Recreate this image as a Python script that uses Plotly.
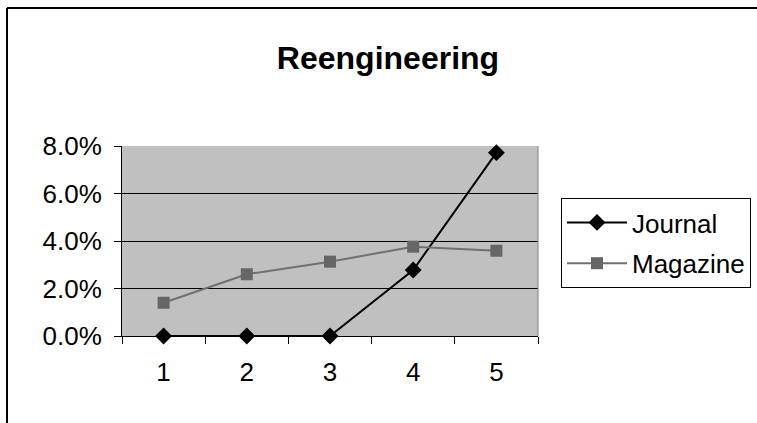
import plotly.graph_objects as go

# Share of articles per period, by publication type
periods = ["1", "2", "3", "4", "5"]
journal = [0.0, 0.0, 0.0, 0.0278, 0.0772]
magazine = [0.0140, 0.0260, 0.0313, 0.0376, 0.0359]
y_ticks = [0.0, 0.02, 0.04, 0.06, 0.08]

FONT = "Arial, 'Liberation Sans', sans-serif"

fig = go.Figure()
fig.add_trace(go.Scatter(
    x=periods, y=journal, name="Journal", mode="lines+markers",
    line=dict(color="#000000", width=2),
    marker=dict(symbol="diamond", size=13, color="#000000"),
    cliponaxis=False, legendgroup="j",
))
fig.add_trace(go.Scatter(
    x=periods, y=magazine, name="Magazine", mode="lines+markers",
    line=dict(color="#707070", width=2),
    marker=dict(symbol="square", size=12, color="#666666"),
    cliponaxis=False, legendgroup="m",
))

fig.update_layout(
    width=757, height=423,
    margin=dict(l=122, r=219, t=146, b=87, autoexpand=False),
    paper_bgcolor="#ffffff",
    plot_bgcolor="#c0c0c0",
    font=dict(family=FONT, size=26, color="#000000"),
    title=dict(
        text="<b>Reengineering</b>",
        font=dict(family=FONT, size=32, color="#000000"),
        x=388 / 757, xanchor="center", xref="container",
        y=1 - 58 / 423, yanchor="middle", yref="container",
    ),
    showlegend=True,
    legend=dict(
        x=(561 - 122) / 416, xanchor="left", y=(336 - 198) / 190, yanchor="top",
        bgcolor="#ffffff", bordercolor="#000000", borderwidth=1,
        font=dict(family=FONT, size=26, color="#000000"),
        tracegroupgap=4, traceorder="grouped", itemwidth=60,
    ),
    xaxis=dict(
        type="category", categoryorder="array", categoryarray=periods,
        range=[-0.5, 4.5],
        tickson="boundaries", ticks="outside", ticklen=7,
        tickcolor="#000000", tickwidth=1,
        showline=True, linecolor="#000000", linewidth=1,
        showgrid=False, zeroline=False, mirror=False,
        ticklabelstandoff=13,
        tickfont=dict(family=FONT, size=26),
    ),
    yaxis=dict(
        range=[0, 0.08], tickvals=y_ticks, tickformat=".1%",
        ticks="outside", ticklen=7, tickcolor="#000000", tickwidth=1,
        showline=True, linecolor="#000000", linewidth=1,
        showgrid=True, gridcolor="#000000", gridwidth=1,
        zeroline=False, ticklabelstandoff=7,
        tickfont=dict(family=FONT, size=26),
    ),
    shapes=[
        # right edge of plot area
        dict(type="line", xref="paper", yref="paper", x0=1, x1=1, y0=0, y1=1,
             line=dict(color="#808080", width=1)),
        # outer chart frame: left and top edges (in pixels of the figure)
        dict(type="line", xref="paper", yref="paper",
             x0=(7 - 122) / 416, x1=(7 - 122) / 416,
             y0=(336 - 423) / 190, y1=(336 - 8) / 190,
             line=dict(color="#000000", width=2), layer="above"),
        dict(type="line", xref="paper", yref="paper",
             x0=(7 - 122) / 416, x1=(757 - 122) / 416,
             y0=(336 - 8) / 190, y1=(336 - 8) / 190,
             line=dict(color="#000000", width=2), layer="above"),
    ],
)

fig.write_html("out.html", config={"displayModeBar": False})
